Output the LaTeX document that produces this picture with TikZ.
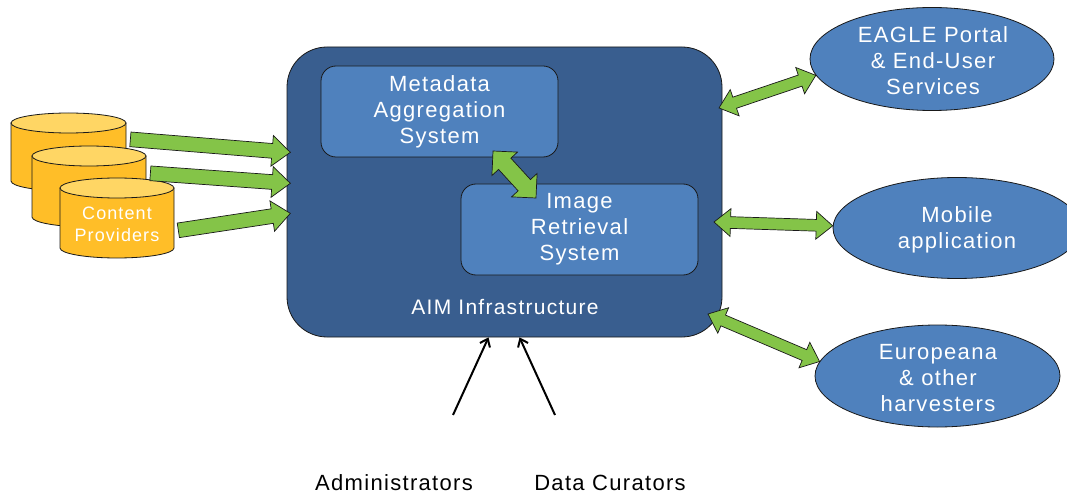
\documentclass[tikz,border=0pt]{standalone}
\usepackage{fontspec}
\setmainfont{Liberation Sans}[LetterSpace=6]
\usetikzlibrary{shapes.arrows,shapes.geometric,arrows.meta,calc}
\definecolor{aimblue}{RGB}{57,94,143}
\definecolor{boxblue}{RGB}{79,129,189}
\definecolor{agreen}{RGB}{132,196,72}
\definecolor{cylbody}{RGB}{255,190,40}
\definecolor{cyltop}{RGB}{255,214,100}
\definecolor{edgec}{RGB}{25,25,25}
\newcommand\fsz[2]{\fontsize{#1}{#2}\selectfont}
\newcommand\barrow[3]{\path let \p1=(#2), \p2=(#3), \n1={veclen(\x2-\x1,\y2-\y1)} in (\p1) -- (\p2) node[#1, midway, minimum height=\n1] {};}
\newcommand\cyl[5]{% x1 x2 ytop ybottom ry
  \filldraw[cylstyle] (#1,#3) -- (#1,#4) arc[start angle=180,end angle=0,x radius={(#2-#1)/2},y radius=#5] -- (#2,#3) -- cycle;
  \filldraw[cyltopstyle] ({(#1+#2)/2},#3) ellipse[x radius={(#2-#1)/2},y radius=#5];}
\tikzset{
  cylstyle/.style={fill=cylbody, draw=edgec, line width=0.8pt},
  cyltopstyle/.style={fill=cyltop, draw=edgec, line width=0.8pt},
  aimbox/.style={rectangle, rounded corners=40pt, fill=aimblue, draw=edgec, line width=0.8pt},
  inbox/.style={rectangle, rounded corners=15pt, fill=boxblue, draw=edgec, line width=0.8pt, text=white, align=center, font=\fsz{22}{26}},
  ell/.style={ellipse, fill=boxblue, draw=edgec, line width=0.8pt, inner sep=0pt},
  wtext/.style={text=white, align=center, font=\fsz{22}{26}},
  btext/.style={text=black, align=center, font=\fsz{22}{26}, inner sep=0pt},
  blockarr/.style={single arrow, draw=edgec, fill=agreen, line width=0.7pt, inner xsep=0pt, inner ysep=7pt, single arrow head extend=8pt, single arrow tip angle=80, sloped, allow upside down},
  dblarr/.style={double arrow, draw=edgec, fill=agreen, line width=0.7pt, inner xsep=0pt, inner ysep=5.5pt, double arrow head extend=8pt, double arrow tip angle=80, sloped, allow upside down},
  fatdbl/.style={double arrow, draw=edgec, fill=agreen, line width=0.7pt, inner xsep=0pt, inner ysep=8pt, double arrow head extend=9pt, double arrow tip angle=90, sloped, allow upside down},
  blk/.style={line width=2pt, -{Straight Barb[length=7pt,width=11pt,line width=2pt]}}
}
\begin{document}
\begin{tikzpicture}[x=1pt,y=-1pt]
\useasboundingbox (0,0) rectangle (1067,494);
% main box
\node[aimbox, minimum width=435pt, minimum height=290pt] (aim) at (504.5,192) {};
\node[wtext, font=\fsz{21}{25}] (aimlbl) at (505,307) {AIM Infrastructure};
\node[inbox, minimum width=237pt, minimum height=91pt] (mas) at (439.5,111.5) {Metadata\\Aggregation\\System};
\node[inbox, minimum width=237pt, minimum height=91pt] (irs) at (579.5,229.5) {Image\\Retrieval\\System};
\coordinate (m1) at (493,151);
\coordinate (m2) at (536,198);
\barrow{fatdbl}{m1}{m2}
% content providers
\cyl{11}{126}{123}{181}{10}
\cyl{32}{146}{156}{217}{10}
\cyl{60}{174}{188}{248}{10}
\node[text=white, align=center, font=\fsz{18}{22}] (cp) at (117,224) {Content\\Providers};
\coordinate (c1) at (126,139);
\coordinate (c2) at (146,173);
\coordinate (c3) at (174,231);
\coordinate (t1) at (286,152);
\coordinate (t2) at (286,183);
\coordinate (t3) at (286,214);
\barrow{blockarr}{c1}{t1}
\barrow{blockarr}{c2}{t2}
\barrow{blockarr}{c3}{t3}
% right ellipses
\node[ell, minimum width=244pt, minimum height=103pt] (eagle) at (932,59) {};
\node[wtext] (eaglelbl) at (933,61) {EAGLE Portal\\\& End-User\\Services};
\node[ell, minimum width=248pt, minimum height=101pt] (mob) at (957,228) {};
\node[wtext] (moblbl) at (957,230) {Mobile\\application};
\node[ell, minimum width=245pt, minimum height=102pt] (eur) at (937.5,376) {};
\node[wtext] (eurlbl) at (938,378) {Europeana\\\& other\\harvesters};
\coordinate (r1) at (719,108);
\coordinate (r2) at (714,222);
\coordinate (r3) at (708,314);
\barrow{dblarr}{r1}{eagle.188}
\barrow{dblarr}{r2}{mob.179}
\barrow{dblarr}{r3}{eur.173}
% users
\node[btext] (adm) at (394,483) {Administrators};
\node[btext] (cur) at (610,483) {Data Curators};
\coordinate (admtop) at (453,415);
\coordinate (curtop) at (555,415);
\draw[blk] (admtop) -- ([xshift=-16pt]aim.south);
\draw[blk] (curtop) -- ([xshift=15pt]aim.south);
\end{tikzpicture}
\end{document}
